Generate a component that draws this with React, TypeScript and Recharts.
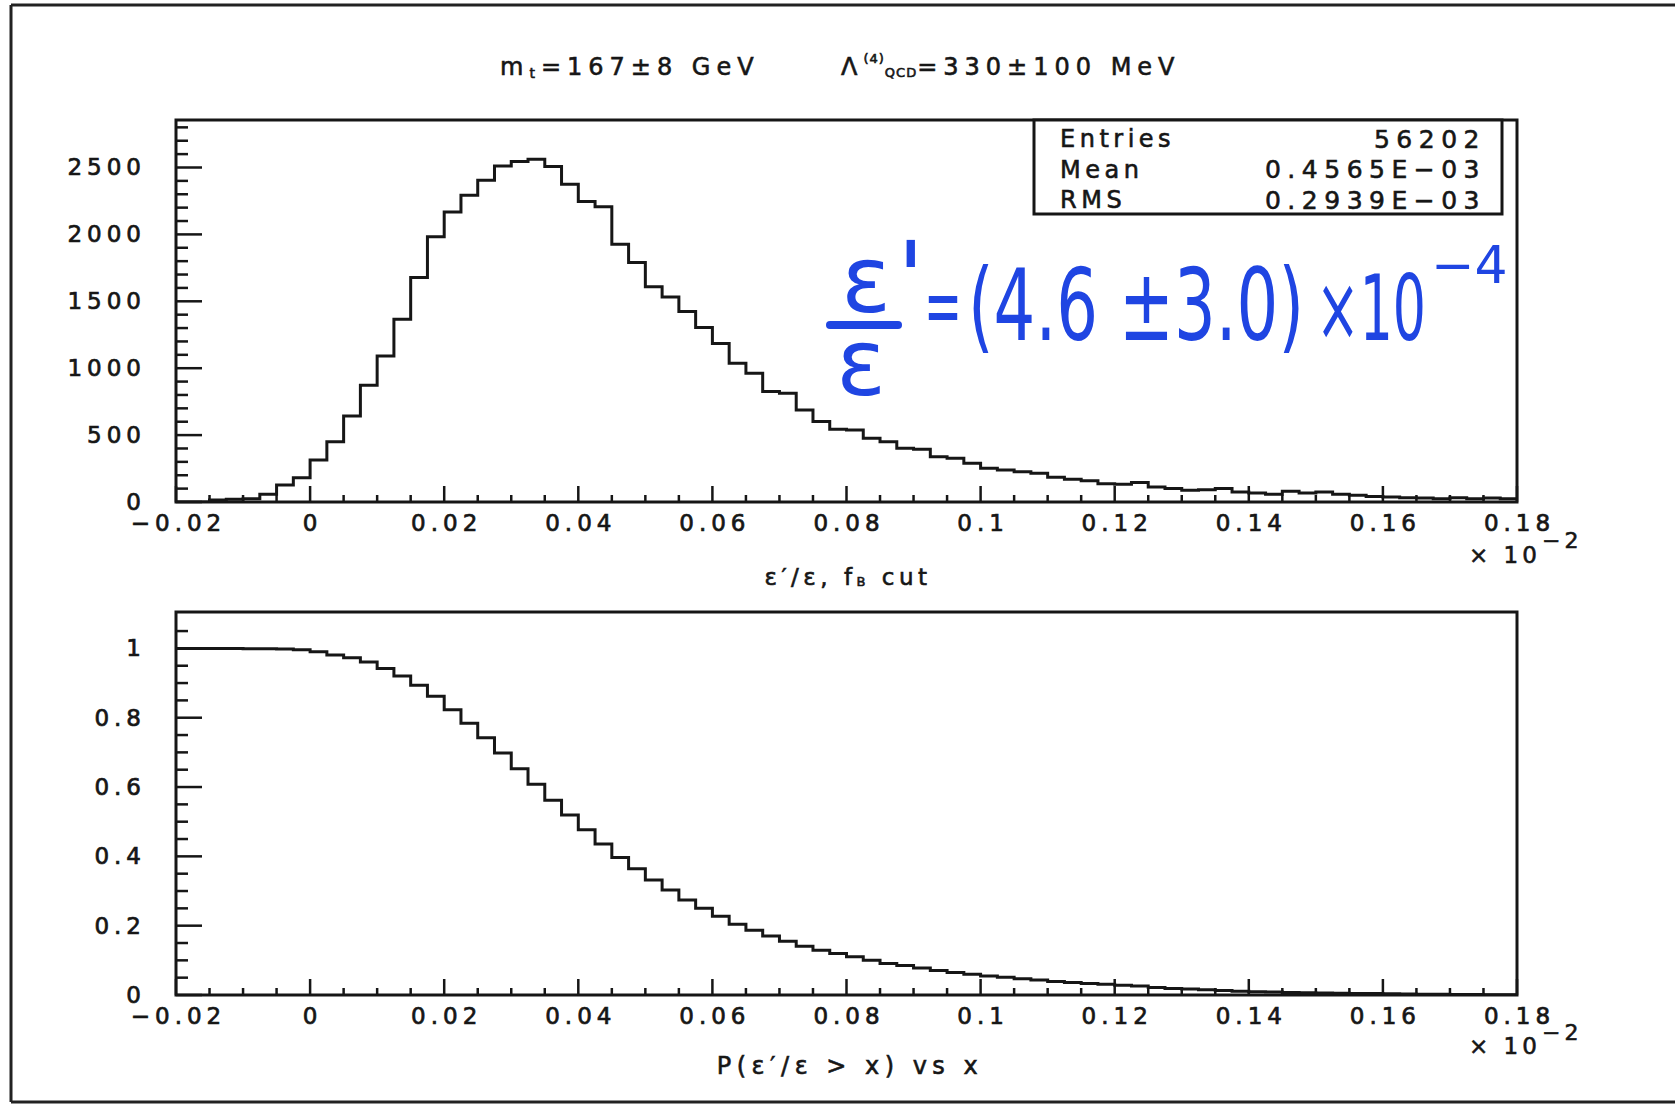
import React from 'react';
import { ComposedChart, Line, XAxis, YAxis, ReferenceArea } from 'recharts';

const FONT = '"DejaVu Sans", sans-serif';
const INK = '#161616';
const BLUE = '#1f45e2';

// Histogram binning: 80 bins from -0.02 to 0.18 (units of 10^-2)
const HIST_MIN = -0.02;
const HIST_MAX = 0.18;
const BIN_WIDTH = 0.0025;

// Top panel: entries per bin
const histCounts = [
  0, 0, 15, 20, 25, 57, 127, 182,
  314, 451, 643, 872, 1092, 1366, 1677, 1982,
  2168, 2293, 2405, 2512, 2545, 2562, 2507, 2375,
  2246, 2206, 1927, 1790, 1608, 1533, 1423, 1304,
  1184, 1037, 962, 825, 813, 688, 601, 543,
  538, 476, 451, 401, 394, 339, 327, 289,
  252, 239, 227, 215, 185, 170, 158, 136,
  132, 145, 112, 100, 87, 92, 100, 75,
  67, 57, 80, 67, 75, 57, 50, 42,
  37, 32, 30, 25, 32, 25, 30, 25,
];

// Bottom panel: P(e'/e > x) per bin
const exceedProb = [
  1.0, 1.0, 1.0, 0.9997, 0.9993, 0.999, 0.998, 0.996,
  0.99, 0.981, 0.973, 0.961, 0.942, 0.92, 0.894, 0.862,
  0.823, 0.784, 0.742, 0.698, 0.653, 0.608, 0.562, 0.519,
  0.477, 0.436, 0.397, 0.364, 0.332, 0.303, 0.274, 0.25,
  0.227, 0.204, 0.187, 0.17, 0.155, 0.141, 0.129, 0.12,
  0.11, 0.1, 0.091, 0.085, 0.078, 0.071, 0.065, 0.06,
  0.055, 0.051, 0.047, 0.043, 0.039, 0.036, 0.033, 0.031,
  0.028, 0.026, 0.022, 0.019, 0.017, 0.015, 0.013, 0.011,
  0.0095, 0.0085, 0.0075, 0.0065, 0.006, 0.005, 0.0045, 0.004,
  0.0035, 0.003, 0.0025, 0.002, 0.0017, 0.0012, 0.0008, 0.0004,
];

const xMajorTicks = [-0.02, 0, 0.02, 0.04, 0.06, 0.08, 0.1, 0.12, 0.14, 0.16, 0.18];
const xTickLabels = ['\u22120.02', '0', '0.02', '0.04', '0.06', '0.08', '0.1', '0.12', '0.14', '0.16', '0.18'];
const X_MINOR_PER_MAJOR = 4;

const histYMajor = [0, 500, 1000, 1500, 2000, 2500];
const histYLabels = ['0', '500', '1000', '1500', '2000', '2500'];
const HIST_Y_MINOR = 100;
const HIST_Y_MAX = 2855;

const probYMajor = [0, 0.2, 0.4, 0.6, 0.8, 1];
const probYLabels = ['0', '0.2', '0.4', '0.6', '0.8', '1'];
const PROB_Y_MINOR = 0.05;
const PROB_Y_MAX = 1.105;

const statsNames = ['Entries', 'Mean', 'RMS'];
const statsValues = ['56202', '0.4565E\u221203', '0.2939E\u221203'];

const r6 = (v: number) => Math.round(v * 1e6) / 1e6;

function stepRows(values: number[]) {
  const rows = values.map((v, i) => ({ x: r6(HIST_MIN + i * BIN_WIDTH), y: v }));
  rows.push({ x: HIST_MAX, y: values[values.length - 1] });
  return rows;
}

function buildXTicks() {
  const out: number[] = [];
  for (let m = 0; m < xMajorTicks.length; m++) {
    out.push(xMajorTicks[m]);
    if (m < xMajorTicks.length - 1) {
      const step = (xMajorTicks[m + 1] - xMajorTicks[m]) / X_MINOR_PER_MAJOR;
      for (let k = 1; k < X_MINOR_PER_MAJOR; k++) out.push(r6(xMajorTicks[m] + k * step));
    }
  }
  return out;
}

function buildYTicks(minorStep: number, max: number) {
  const out: number[] = [];
  const n = Math.floor(max / minorStep + 1e-9);
  for (let i = 0; i <= n; i++) out.push(r6(i * minorStep));
  return out;
}

const xTicks = buildXTicks();

const tickText = {
  fontFamily: FONT,
  fontSize: 23,
  letterSpacing: 5,
  fill: INK,
  stroke: INK,
  strokeWidth: 0.7,
};

function XTick(props: any) {
  const { x, y, payload } = props;
  const v = payload.value;
  const mi = xMajorTicks.findIndex((t) => Math.abs(t - v) < 1e-6);
  const major = mi >= 0;
  return (
    <g>
      <line x1={x} x2={x} y1={y} y2={y - (major ? 16 : 7)} stroke={INK} strokeWidth={2.5} />
      {major && (
        <text x={x + 2.5} y={y + 21} textAnchor="middle" dominantBaseline="central" {...tickText}>
          {xTickLabels[mi]}
        </text>
      )}
    </g>
  );
}

function makeYTick(majors: number[], labels: string[]) {
  return function YTick(props: any) {
    const { x, y, payload } = props;
    const v = payload.value;
    const mi = majors.findIndex((t) => Math.abs(t - v) < 1e-6);
    const major = mi >= 0;
    return (
      <g>
        <line x1={x} x2={x + (major ? 26 : 12)} y1={y} y2={y} stroke={INK} strokeWidth={2.5} />
        {major && (
          <text x={x - 30} y={y} textAnchor="end" dominantBaseline="central" {...tickText}>
            {labels[mi]}
          </text>
        )}
      </g>
    );
  };
}

const HistYTick = makeYTick(histYMajor, histYLabels);
const ProbYTick = makeYTick(probYMajor, probYLabels);

const Y_AXIS_W = 60;
const X_AXIS_H = 40;

function Panel(props: {
  rows: { x: number; y: number }[];
  yMax: number;
  yTicks: number[];
  YTickComp: (p: any) => any;
  height: number;
  margin: { top: number; right: number; bottom: number; left: number };
}) {
  const { rows, yMax, yTicks, YTickComp, height, margin } = props;
  return (
    <ComposedChart width={1675} height={height} data={rows} margin={margin}>
      <XAxis
        type="number"
        dataKey="x"
        domain={[HIST_MIN, HIST_MAX]}
        allowDataOverflow
        ticks={xTicks}
        interval={0}
        height={X_AXIS_H}
        tickSize={0}
        tickMargin={0}
        tickLine={false}
        axisLine={false}
        tick={(p: any) => <XTick {...p} />}
      />
      <YAxis
        type="number"
        domain={[0, yMax]}
        allowDataOverflow
        ticks={yTicks}
        interval={0}
        width={Y_AXIS_W}
        tickSize={0}
        tickMargin={0}
        tickLine={false}
        axisLine={false}
        tick={(p: any) => <YTickComp {...p} />}
      />
      <ReferenceArea
        x1={HIST_MIN}
        x2={HIST_MAX}
        y1={0}
        y2={yMax}
        fill="none"
        fillOpacity={0}
        stroke={INK}
        strokeWidth={3}
        strokeOpacity={1}
      />
      <Line
        type="stepAfter"
        dataKey="y"
        stroke={INK}
        strokeWidth={3}
        dot={false}
        activeDot={false}
        isAnimationActive={false}
      />
    </ComposedChart>
  );
}

const txt = { fontFamily: FONT, fill: INK, stroke: INK, strokeWidth: 0.6 } as const;

export default function App() {
  const histRows = stepRows(histCounts);
  const probRows = stepRows(exceedProb);
  return (
    <div
      style={{
        position: 'absolute',
        left: 0,
        top: 0,
        width: 1675,
        height: 1108,
        background: '#ffffff',
        overflow: 'hidden',
      }}
    >
      <div style={{ position: 'absolute', left: 0, top: 0 }}>
        <Panel
          rows={histRows}
          yMax={HIST_Y_MAX}
          yTicks={buildYTicks(HIST_Y_MINOR, HIST_Y_MAX)}
          YTickComp={HistYTick}
          height={560}
          margin={{ top: 120, right: 158, bottom: 58 - X_AXIS_H, left: 176 - Y_AXIS_W }}
        />
      </div>
      <div style={{ position: 'absolute', left: 0, top: 560 }}>
        <Panel
          rows={probRows}
          yMax={PROB_Y_MAX}
          yTicks={buildYTicks(PROB_Y_MINOR, PROB_Y_MAX - 0.01)}
          YTickComp={ProbYTick}
          height={548}
          margin={{ top: 52, right: 158, bottom: 113 - X_AXIS_H, left: 176 - Y_AXIS_W }}
        />
      </div>
      <svg
        width={1675}
        height={1108}
        style={{ position: 'absolute', left: 0, top: 0, pointerEvents: 'none' }}
      >
        {/* page border */}
        <line x1={11} x2={11} y1={5} y2={1102} stroke="#222" strokeWidth={3} />
        <line x1={11} x2={1675} y1={5} y2={5} stroke="#222" strokeWidth={3} />
        <line x1={11} x2={1675} y1={1102} y2={1102} stroke="#222" strokeWidth={3} />

        {/* title */}
        <text x={500} y={67} dominantBaseline="central" fontSize={24} letterSpacing={6} {...txt}>
          m<tspan fontSize={14} dy={6}>t</tspan>
          <tspan dy={-6}>=167±8 GeV</tspan>
        </text>
        <text x={841} y={67} dominantBaseline="central" fontSize={24} letterSpacing={6} {...txt}>
          Λ<tspan fontSize={13} dy={-9} letterSpacing={1}>(4)</tspan>
          <tspan fontSize={13} dy={14} letterSpacing={1}>QCD</tspan>
          <tspan dy={-5}>=330±100 MeV</tspan>
        </text>

        {/* stats box */}
        <rect x={1034} y={120} width={468} height={94} fill="#fff" stroke={INK} strokeWidth={3} />
        {statsNames.map((n, i) => (
          <text
            key={n}
            x={1060}
            y={139 + i * 30.5}
            dominantBaseline="central"
            fontSize={24}
            letterSpacing={4.5}
            {...txt}
          >
            {n}
          </text>
        ))}
        {statsValues.map((v, i) => (
          <text
            key={v}
            x={1486}
            y={139 + i * 30.5}
            textAnchor="end"
            dominantBaseline="central"
            fontSize={25}
            letterSpacing={6.5}
            {...txt}
          >
            {v}
          </text>
        ))}

        {/* axis titles */}
        <text x={848} y={577} textAnchor="middle" dominantBaseline="central" fontSize={23} letterSpacing={4.5} {...txt}>
          ε′/ε, f<tspan fontSize={13} dy={4}>B</tspan>
          <tspan dy={-4}> cut</tspan>
        </text>
        <text x={850} y={1066} textAnchor="middle" dominantBaseline="central" fontSize={24} letterSpacing={5.5} {...txt}>
          P(ε′/ε &gt; x) vs x
        </text>

        {/* x10^-2 multipliers */}
        <text x={1469} y={555} dominantBaseline="central" fontSize={23} letterSpacing={4} {...txt}>
          × 10
        </text>
        <text x={1542} y={540} dominantBaseline="central" fontSize={22} letterSpacing={4} {...txt}>
          −2
        </text>
        <text x={1469} y={1046} dominantBaseline="central" fontSize={23} letterSpacing={4} {...txt}>
          × 10
        </text>
        <text x={1542} y={1032} dominantBaseline="central" fontSize={22} letterSpacing={4} {...txt}>
          −2
        </text>

        {/* handwritten result */}
        <g fill={BLUE} fontFamily={FONT}>
          <text x={866} y={312} textAnchor="middle" fontSize={92}>ε</text>
          <text x={897} y={313} fontSize={100}>'</text>
          <line x1={830} x2={898} y1={325} y2={325} stroke={BLUE} strokeWidth={8} strokeLinecap="round" />
          <text x={861} y={395} textAnchor="middle" fontSize={92}>ε</text>
          <text x={924} y={334} fontSize={84} textLength={38} lengthAdjust="spacingAndGlyphs">=</text>
          <text x={968} y={340} fontSize={100} textLength={336} lengthAdjust="spacingAndGlyphs">
            (4.6 ±3.0)
          </text>
          <text x={1316} y={340} fontSize={90} textLength={110} lengthAdjust="spacingAndGlyphs">
            ×10
          </text>
          <text x={1431} y={283} fontSize={52}>−4</text>
        </g>
      </svg>
    </div>
  );
}
